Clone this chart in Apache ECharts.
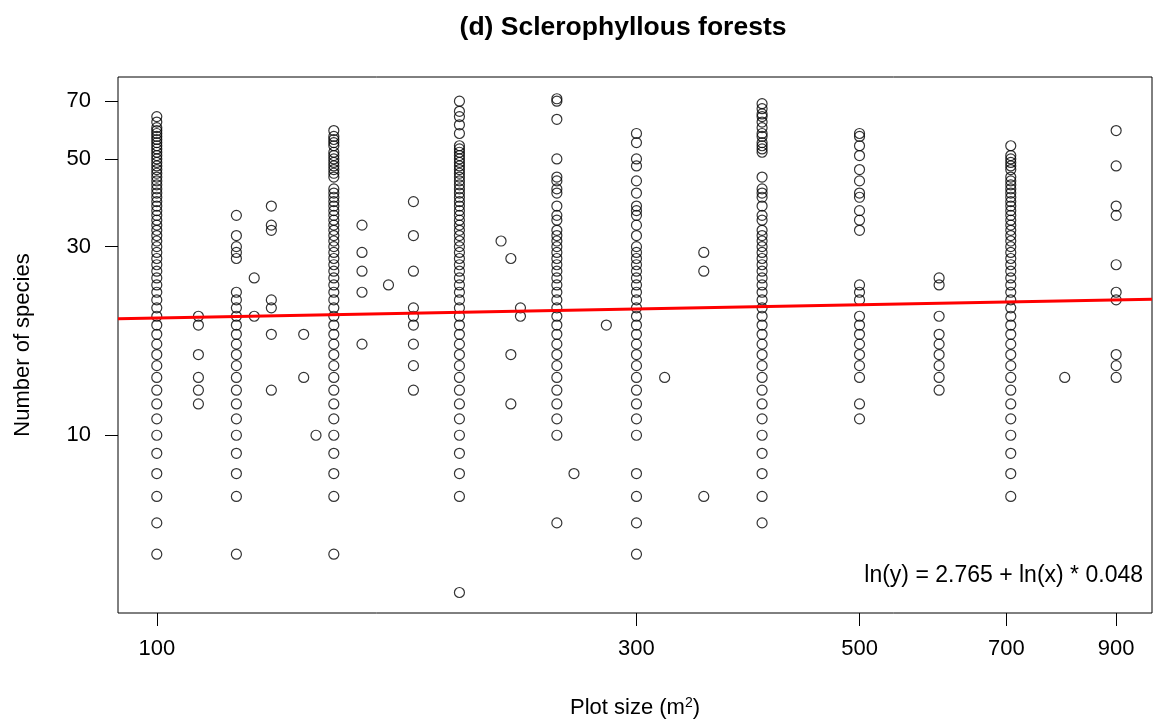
<!DOCTYPE html>
<html>
<head>
<meta charset="utf-8">
<script src="https://cdn.jsdelivr.net/npm/echarts@6/dist/echarts.min.js"></script>
<style>
  html, body { margin: 0; padding: 0; background: #fff; }
  #chart { width: 1153px; height: 720px; }
</style>
</head>
<body>
<div id="chart"></div>
<script>
// plot sizes (m2) that have records, and the species counts seen at each
const plotSizes = [100, 110, 120, 125, 130, 140, 144, 150, 160, 170, 180, 200, 220, 225, 230,
  250, 260, 280, 300, 320, 350, 400, 500, 600, 707, 800, 900];

const speciesCounts = [
  [5, 6, 7, 8, 9, 10, 11, 12, 13, 14, 15, 16, 17, 18, 19, 20, 21, 22, 23, 24, 25, 26, 27, 28, 29, 30,
    31, 32, 33, 34, 35, 36, 37, 38, 39, 40, 41, 42, 43, 44, 45, 46, 47, 48, 49, 50, 51, 52, 53, 54,
    55, 56, 57, 58, 59, 60, 62, 64],
  [12, 13, 14, 16, 19, 20],
  [5, 7, 8, 9, 10, 11, 12, 13, 14, 15, 16, 17, 18, 19, 20, 21, 22, 23, 28, 29, 30, 32, 36],
  [20, 25],
  [13, 18, 21, 22, 33, 34, 38],
  [14, 18],
  [10],
  [5, 7, 8, 9, 10, 11, 12, 13, 14, 15, 16, 17, 18, 19, 20, 21, 22, 23, 24, 25, 26, 27, 28, 29, 30,
    31, 32, 33, 34, 35, 36, 37, 38, 39, 40, 41, 42, 45, 46, 47, 48, 49, 50, 51, 52, 54, 55, 56, 57, 59],
  [17, 23, 26, 29, 34],
  [24],
  [13, 15, 17, 19, 20, 21, 26, 32, 39],
  [4, 7, 8, 9, 10, 11, 12, 13, 14, 15, 16, 17, 18, 19, 20, 21, 22, 23, 24, 25, 26, 27, 28, 29, 30,
    31, 32, 33, 34, 35, 36, 37, 38, 39, 40, 41, 42, 43, 44, 45, 46, 47, 48, 49, 50, 51, 52, 53, 54,
    58, 61, 64, 66, 70],
  [31],
  [12, 16, 28],
  [20, 21],
  [6, 10, 11, 12, 13, 14, 15, 16, 17, 18, 19, 20, 21, 22, 23, 24, 25, 26, 27, 28, 29, 30, 31, 32, 33,
    35, 36, 38, 41, 42, 44, 45, 50, 63, 70, 71],
  [8],
  [19],
  [5, 6, 7, 8, 10, 11, 12, 13, 14, 15, 16, 17, 18, 19, 20, 21, 22, 23, 24, 25, 26, 27, 28, 29, 30,
    32, 34, 36, 37, 38, 41, 44, 48, 50, 55, 58],
  [14],
  [7, 26, 29],
  [6, 7, 8, 9, 10, 11, 12, 13, 14, 15, 16, 17, 18, 19, 20, 21, 22, 23, 24, 25, 26, 27, 28, 29, 30,
    31, 32, 33, 35, 36, 38, 40, 41, 42, 45, 52, 53, 54, 55, 57, 58, 60, 62, 64, 65, 67, 69],
  [11, 12, 14, 15, 16, 17, 18, 19, 20, 22, 23, 24, 33, 35, 37, 40, 41, 44, 47, 51, 54, 57, 58],
  [13, 14, 15, 16, 17, 18, 20, 24, 25],
  [7, 8, 9, 10, 11, 12, 13, 14, 15, 16, 17, 18, 19, 20, 21, 22, 23, 24, 25, 26, 27, 28, 29, 30,
    31, 32, 33, 34, 35, 36, 37, 38, 39, 40, 41, 42, 43, 44, 45, 47, 48, 49, 50, 51, 54],
  [14],
  [14, 15, 16, 22, 23, 27, 36, 38, 48, 59]
];

const xTicks = [100, 300, 500, 700, 900];
const yTicks = [10, 30, 50, 70];

// fitted model ln(y) = a + ln(x) * b
const fitIntercept = 2.765;
const fitSlope = 0.048;

const xRange = [91.5, 977];
const yRange = [3.55, 80.6];

const points = [];
plotSizes.forEach((size, i) => {
  speciesCounts[i].forEach((n) => points.push([size, n]));
});

const fitAt = (x) => Math.exp(fitIntercept + Math.log(x) * fitSlope);
const fitLine = [
  [xRange[0], fitAt(xRange[0])],
  [xRange[1], fitAt(xRange[1])],
];

const font = "'Liberation Sans', Arial, sans-serif";

const chart = echarts.init(document.getElementById("chart"));

chart.setOption({
  animation: false,
  textStyle: { fontFamily: font },
  title: {
    text: "(d) Sclerophyllous forests",
    left: 618,
    top: 9,
    textAlign: "center",
    textStyle: { fontFamily: font, fontSize: 26.5, fontWeight: "bold", color: "#000" },
  },
  grid: {
    left: 118,
    right: 1,
    top: 77,
    bottom: 107,
    outerBoundsMode: "none",
    show: true,
    borderColor: "#000",
    borderWidth: 1,
  },
  xAxis: {
    type: "log",
    logBase: 10,
    min: xRange[0],
    max: xRange[1],
    name: "Plot size (m{sup|2})",
    nameLocation: "middle",
    nameGap: 83,
    nameTextStyle: {
      fontFamily: font,
      fontSize: 22,
      color: "#000",
      rich: { sup: { fontSize: 14, verticalAlign: "top", padding: [0, 0, 10, 0], color: "#000" } },
    },
    axisLine: { show: false },
    axisTick: { show: true, length: 13, customValues: xTicks, lineStyle: { color: "#000" } },
    axisLabel: { customValues: xTicks, margin: 25, fontSize: 22, color: "#000", fontFamily: font },
    splitLine: { show: false },
  },
  yAxis: {
    type: "log",
    logBase: 10,
    min: yRange[0],
    max: yRange[1],
    name: "Number of species",
    nameLocation: "middle",
    nameGap: 84,
    nameRotate: 90,
    nameTextStyle: { fontFamily: font, fontSize: 22, color: "#000" },
    axisLine: { show: false },
    axisTick: { show: true, length: 13, customValues: yTicks, lineStyle: { color: "#000" } },
    axisLabel: { customValues: yTicks, margin: 27, fontSize: 22, color: "#000", fontFamily: font },
    splitLine: { show: false },
  },
  graphic: [
    {
      type: "text",
      right: 10,
      top: 564,
      style: {
        text: "ln(y) = 2.765 + ln(x) * 0.048",
        fontFamily: font,
        fontSize: 23,
        fill: "#000",
      },
    },
  ],
  series: [
    {
      type: "scatter",
      data: points,
      symbol: "circle",
      symbolSize: 10,
      itemStyle: { color: "rgba(0,0,0,0)", borderColor: "#000", borderWidth: 1.2 },
      emphasis: { disabled: true },
      z: 2,
    },
    {
      type: "line",
      data: fitLine,
      symbol: "none",
      lineStyle: { color: "#ff0000", width: 3 },
      emphasis: { disabled: true },
      z: 3,
    },
  ],
});
</script>
</body>
</html>
